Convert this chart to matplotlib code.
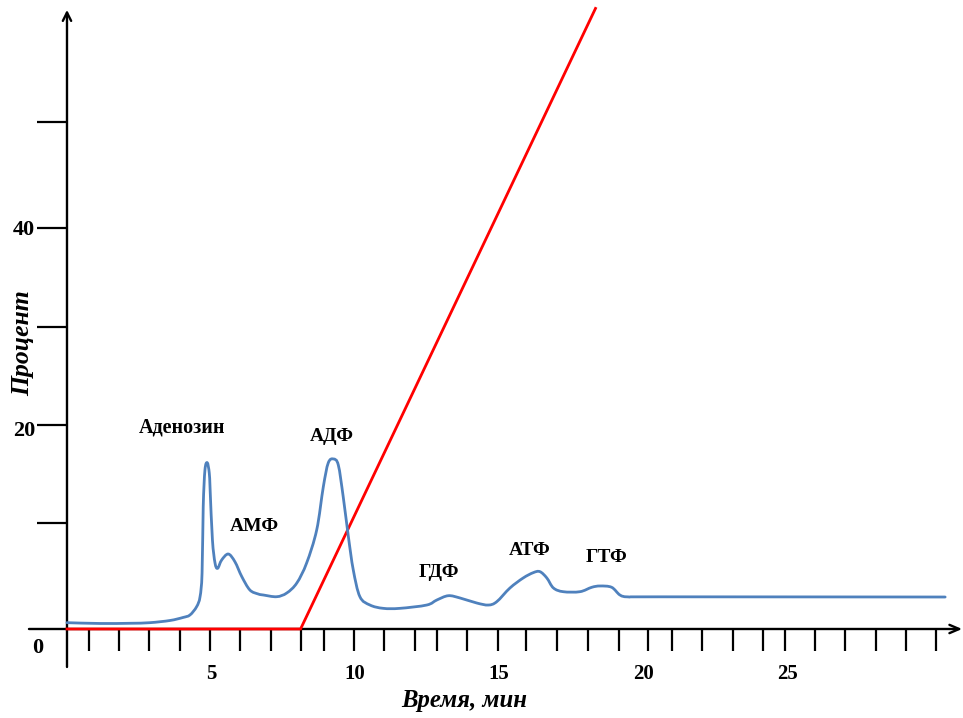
import matplotlib
matplotlib.use("Agg")
import matplotlib.pyplot as plt
import numpy as np
from matplotlib.path import Path
from matplotlib.patches import PathPatch

plt.rcParams["font.family"] = ["Liberation Serif", "DejaVu Serif"]
plt.rcParams["font.weight"] = "bold"

# Chromatogram trace: retention time (min) and detector signal
time_min = [0.0, 1.15, 2.19, 2.88, 3.58, 4.03, 4.27, 4.50, 4.62, 4.69, 4.73, 4.79,
            4.87, 4.94, 4.97, 5.05, 5.14, 5.23, 5.37, 5.60, 5.83, 6.07, 6.35, 6.64,
            6.82, 7.28, 7.63, 7.98, 8.32, 8.67, 8.90, 9.07, 9.25, 9.42, 9.59, 9.77,
            9.94, 10.17, 10.52, 10.98, 11.56, 12.49, 12.84, 13.24, 13.65, 14.23,
            14.63, 14.92, 15.38, 15.84, 16.19, 16.42, 16.66, 16.89, 17.23, 17.81,
            18.22, 18.51, 18.91, 19.20, 19.50, 20.59, 30.49]
signal = [0.63, 0.55, 0.57, 0.63, 0.85, 1.15, 1.40, 2.22, 3.22, 5.59, 12.2, 15.86,
          16.59, 15.56, 13.87, 8.88, 6.58, 6.05, 6.88, 7.48, 6.71, 5.22, 3.89, 3.49,
          3.39, 3.22, 3.59, 4.59, 6.58, 9.88, 14.19, 16.56, 16.96, 16.36, 13.20, 9.21,
          5.89, 3.22, 2.39, 2.06, 2.06, 2.39, 2.89, 3.32, 3.09, 2.59,
          2.39, 2.72, 4.09, 5.09, 5.62, 5.72, 5.09, 4.09, 3.72, 3.72,
          4.16, 4.29, 4.16, 3.39, 3.20, 3.21, 3.19]

# Elution gradient (percent)
gradient_time = [0.0, 8.11, 18.35]
gradient_pct = [0.0, 0.0, 61.9]

# Peak names and where their captions sit
peak_names = ["Аденозин", "АМФ", "АДФ", "ГДФ", "АТФ", "ГТФ"]
peak_label_x = [3.98, 6.49, 9.19, 12.92, 16.08, 18.72]
peak_label_y = [20.1, 10.2, 19.2, 5.6, 7.8, 7.1]

# Axis tick marks and labels
x_tick_marks = [0.77, 1.82, 2.86, 3.92, 4.97, 6.01, 7.07, 8.11, 8.92, 9.97, 11.01,
                12.08, 12.84, 13.88, 14.95, 15.95, 17.02, 18.10, 19.17, 20.18, 21.0,
                22.04, 23.11, 24.16, 24.93, 25.97, 27.01, 28.09, 29.13, 30.17]
x_labels = [5, 10, 15, 20, 25]
y_tick_marks = [10.54, 20.35, 30.15, 39.97, 50.53]
y_labels = [20, 40]


def smooth_path(xs, ys):
    """Smoothed line through the points (Catmull-Rom segments as cubic Beziers)."""
    pts = np.column_stack([xs, ys]).astype(float)
    n = len(pts)
    verts = [pts[0]]
    codes = [Path.MOVETO]
    for i in range(n - 1):
        p0 = pts[i - 1] if i > 0 else pts[i]
        p1 = pts[i]
        p2 = pts[i + 1]
        p3 = pts[i + 2] if i + 2 < n else pts[i + 1]
        c1 = p1 + (p2 - p0) / 6.0
        c2 = p2 - (p3 - p1) / 6.0
        verts += [c1, c2, p2]
        codes += [Path.CURVE4] * 3
    return Path(verts, codes)


fig = plt.figure(figsize=(9.63, 7.18), dpi=100)
ax = fig.add_axes([0, 0, 1, 1])
ax.set_xlim(-2.326, 31.11)
ax.set_ylim(-8.878, 62.74)

for side in ["top", "right", "bottom", "left"]:
    ax.spines[side].set_visible(False)
ax.spines["bottom"].set_position(("data", 0))
ax.spines["left"].set_position(("data", 0))
ax.xaxis.set_ticks_position("bottom")
ax.yaxis.set_ticks_position("left")

# Axis lines with open arrowheads
ax.annotate("", xy=(31.08, 0), xytext=(-1.32, 0),
            arrowprops=dict(arrowstyle="->,head_length=0.7,head_width=0.3",
                            color="black", lw=1.7, shrinkA=0, shrinkB=0), zorder=1)
ax.annotate("", xy=(0, 61.75), xytext=(0, -3.79),
            arrowprops=dict(arrowstyle="->,head_length=0.6,head_width=0.3",
                            color="black", lw=1.7, shrinkA=0, shrinkB=0), zorder=1)

ax.set_xticks(x_tick_marks, minor=True)
ax.set_xticks(x_labels)
ax.set_xticklabels([str(v) for v in x_labels])
ax.set_yticks(y_tick_marks, minor=True)
ax.set_yticks(y_labels)
ax.set_yticklabels([str(v) for v in y_labels])

ax.tick_params(axis="x", which="minor", direction="out", length=15.8, width=1.6, color="black")
ax.tick_params(axis="x", which="major", length=0, pad=25, labelsize=15)
ax.tick_params(axis="y", which="minor", direction="out", length=21.6, width=1.6, color="black")
ax.tick_params(axis="y", which="major", length=0, pad=23, labelsize=16)
for lbl in ax.get_xticklabels() + ax.get_yticklabels():
    lbl.set_fontweight("bold")

ax.text(-1.03, -1.9, "0", ha="center", va="center", fontsize=16, fontweight="bold")

ax.plot(gradient_time, gradient_pct, color="#FF0000", lw=2.0, zorder=3,
        solid_joinstyle="miter")
ax.add_patch(PathPatch(smooth_path(time_min, signal), facecolor="none",
                       edgecolor="#4F81BD", lw=2.0, zorder=4,
                       joinstyle="round", capstyle="round"))

for name, lx, ly in zip(peak_names, peak_label_x, peak_label_y):
    ax.text(lx, ly, name, ha="center", va="center", fontsize=14.5 if len(name) > 3 else 14,
            fontweight="bold")

ax.text(-1.55, 28.5, "Процент", rotation=90, ha="center", va="center",
        fontsize=18.5, fontweight="bold", fontstyle="italic")
ax.text(13.78, -7.1, "Время, мин", ha="center", va="center",
        fontsize=17.8, fontweight="bold", fontstyle="italic")

fig.savefig("out.png", dpi=100)
